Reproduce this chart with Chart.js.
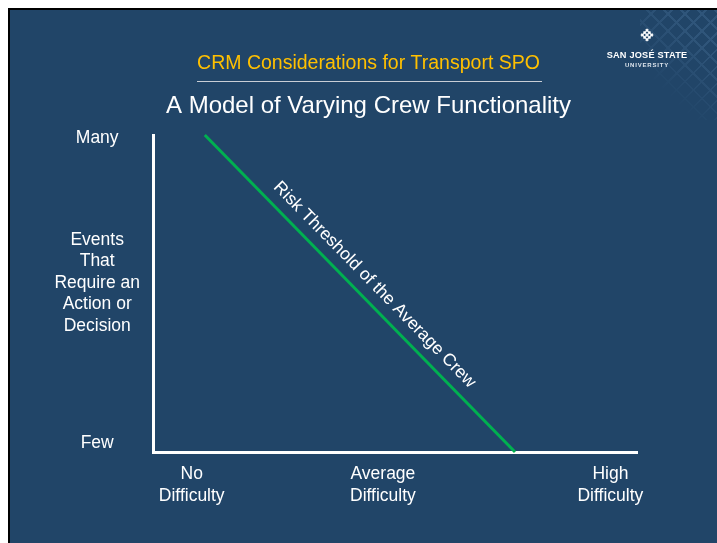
<!DOCTYPE html>
<html>
<head>
<meta charset="utf-8">
<script src="https://cdn.jsdelivr.net/npm/chart.js@4.4.1/dist/chart.umd.min.js"></script>
<style>
    html, body { margin: 0; padding: 0; background: #fff; overflow: hidden; width: 717px; height: 543px; }
    #slide {
        position: absolute; left: 8px; top: 8px; width: 717px; height: 543px;
        border-left: 2px solid #000; border-top: 2px solid #000;
        background: #214568; overflow: hidden;
        font-family: "Liberation Sans", Arial, sans-serif;
    }
    #chart { position: absolute; left: 0; top: 0; }
    .rule { position: absolute; left: 187px; top: 71px; width: 345px; height: 1px; background: #c9ced6; }
    .pattern {
        position: absolute; left: 630px; top: 0; width: 90px; height: 110px; opacity: 0.16;
        background:
            repeating-linear-gradient(45deg, transparent 0 10px, #7aa8d6 10px 12px),
            repeating-linear-gradient(-45deg, transparent 0 10px, #7aa8d6 10px 12px);
        -webkit-mask-image: linear-gradient(225deg, #000 30%, transparent 75%);
        mask-image: linear-gradient(225deg, #000 30%, transparent 75%);
    }
    .logo { position: absolute; left: 587px; top: 20px; width: 100px; text-align: center; color: #fff; font-weight: bold; }
    .logo .mark {
        width: 10px; height: 10px; margin: 0 auto 10px; transform: rotate(45deg);
        background: radial-gradient(circle, #fff 55%, transparent 62%) 0 0 / 3.34px 3.34px;
    }
    .logo .name { font-size: 9.2px; letter-spacing: 0.2px; line-height: 11px; }
    .logo .uni { font-size: 6px; letter-spacing: 0.8px; line-height: 9px; color: #dfe6ee; }
</style>
</head>
<body>
<div id="slide">
    <div class="pattern"></div>
    <canvas id="chart" width="717" height="533"></canvas>
    <div class="rule"></div>
    <div class="logo">
        <div class="mark"></div>
        <div class="name">SAN JOSÉ STATE</div>
        <div class="uni">UNIVERSITY</div>
    </div>
</div>
<script>
const titleText = 'CRM Considerations for Transport SPO';
const subtitleText = 'A Model of Varying Crew Functionality';

const xTickValues = [0.8, 4.75, 9.45];
const xTickLabels = [['No', 'Difficulty'], ['Average', 'Difficulty'], ['High', 'Difficulty']];
const yTickValues = [0.28, 5.33, 9.9];
const yTickLabels = ['Few', ['Events', 'That', 'Require an', 'Action or', 'Decision'], 'Many'];

const riskX = [1.07, 7.48];
const riskY = [10, 0];
const riskLabel = 'Risk Threshold of the Average Crew';

const FONT = '"Liberation Sans", Arial, sans-serif';

// writes the label along the green line, a bit above it
const lineLabel = {
    id: 'lineLabel',
    afterDatasetsDraw(chart) {
        const pts = chart.getDatasetMeta(0).data;
        const a = pts[0], b = pts[pts.length - 1];
        const angle = Math.atan2(b.y - a.y, b.x - a.x);
        const ctx = chart.ctx;
        ctx.save();
        ctx.translate((a.x + b.x) / 2, (a.y + b.y) / 2);
        ctx.rotate(angle);
        ctx.font = '17.5px ' + FONT;
        ctx.fillStyle = '#ffffff';
        ctx.textAlign = 'center';
        ctx.textBaseline = 'middle';
        ctx.fillText(riskLabel, 4, -16.5);
        ctx.restore();
    }
};

new Chart(document.getElementById('chart'), {
    type: 'scatter',
    data: {
        datasets: [{
            data: riskX.map((x, i) => ({ x: x, y: riskY[i] })),
            showLine: true,
            borderColor: '#00b050',
            borderWidth: 3,
            pointRadius: 0,
            clip: false
        }]
    },
    options: {
        responsive: false,
        animation: false,
        layout: { padding: 0 },
        plugins: {
            legend: { display: false },
            tooltip: { enabled: false },
            title: {
                display: true,
                text: titleText,
                color: '#ffc000',
                font: { family: FONT, size: 19.5, weight: 'normal', lineHeight: 1.2 },
                padding: { top: 41.5, bottom: 0 }
            },
            subtitle: {
                display: true,
                text: subtitleText,
                color: '#ffffff',
                font: { family: FONT, size: 24, weight: 'normal', lineHeight: 1.2 },
                padding: { top: 17, bottom: 14.3 }
            }
        },
        scales: {
            x: {
                type: 'linear',
                min: 0,
                max: 10,
                grid: { display: false, drawTicks: false },
                border: { display: true, color: '#ffffff', width: 3 },
                afterBuildTicks: s => { s.ticks = xTickValues.map(v => ({ value: v })); },
                afterFit: s => { s.height = 91; },
                ticks: {
                    color: '#ffffff',
                    padding: 11,
                    maxRotation: 0,
                    autoSkip: false,
                    font: { family: FONT, size: 17.5, lineHeight: 1.25 },
                    callback: (v, i) => xTickLabels[i]
                }
            },
            y: {
                type: 'linear',
                min: 0,
                max: 10,
                grid: { display: false, drawTicks: false },
                border: { display: true, color: '#ffffff', width: 3 },
                afterBuildTicks: s => { s.ticks = yTickValues.map(v => ({ value: v })); },
                afterFit: s => { s.width = 143; },
                ticks: {
                    color: '#ffffff',
                    padding: 13,
                    crossAlign: 'center',
                    autoSkip: false,
                    font: { family: FONT, size: 17.5, lineHeight: 1.23 },
                    callback: (v, i) => yTickLabels[i]
                }
            },
            // empty axis on the right only to keep the plot off the right edge
            spacer: {
                type: 'linear',
                position: 'right',
                grid: { display: false, drawTicks: false },
                border: { display: false },
                ticks: { display: false },
                afterFit: s => { s.width = 90; }
            }
        }
    },
    plugins: [lineLabel]
});
</script>
</body>
</html>
